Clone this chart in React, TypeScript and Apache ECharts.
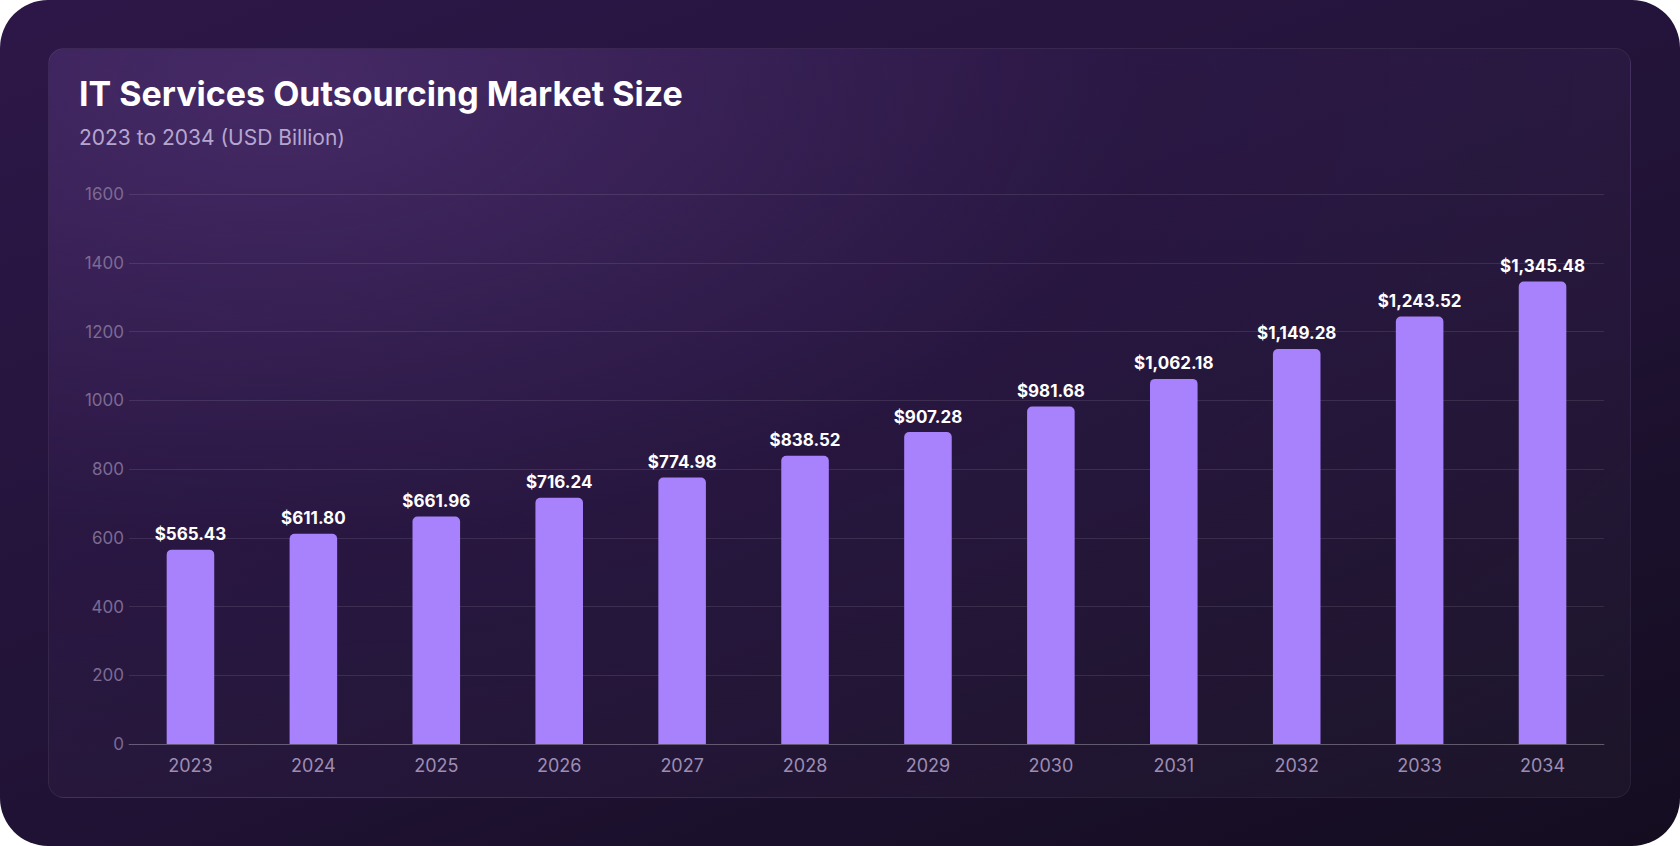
import React, { useEffect, useRef } from 'react';
import * as echarts from 'echarts';

const years = ['2023', '2024', '2025', '2026', '2027', '2028', '2029', '2030', '2031', '2032', '2033', '2034'];
const marketSize = [565.43, 611.8, 661.96, 716.24, 774.98, 838.52, 907.28, 981.68, 1062.18, 1149.28, 1243.52, 1345.48];

const title = 'IT Services Outsourcing Market Size';
const subtitle = '2023 to 2034 (USD Billion)';

const formatUsd = (v: number) =>
  '$' + v.toLocaleString('en-US', { minimumFractionDigits: 2, maximumFractionDigits: 2 });

const App: React.FC = () => {
  const chartRef = useRef<HTMLDivElement>(null);

  useEffect(() => {
    if (!chartRef.current) return;
    const chart = echarts.init(chartRef.current, null, { renderer: 'svg' });

    const option: echarts.EChartsOption = {
      animation: false,
      backgroundColor: 'transparent',
      textStyle: { fontFamily: 'Inter' },
      title: {
        text: title,
        subtext: subtitle,
        left: 74,
        top: 71,
        itemGap: 17,
        textStyle: { color: '#ffffff', fontSize: 34, fontWeight: 'bold', fontFamily: 'Inter' },
        subtextStyle: { color: '#b6a6cf', fontSize: 21, fontFamily: 'Inter' }
      },
      grid: { left: 129, right: 76, top: 194, bottom: 102 },
      xAxis: {
        type: 'category',
        data: years,
        axisLine: { lineStyle: { color: 'rgba(255,255,255,0.22)' } },
        axisTick: { show: false },
        axisLabel: { color: '#9d8db4', fontSize: 18, margin: 12, fontFamily: 'Inter' }
      },
      yAxis: {
        type: 'value',
        min: 0,
        max: 1600,
        interval: 200,
        axisLine: { show: false },
        axisTick: { show: false },
        axisLabel: {
          color: '#7c6a93',
          fontSize: 17,
          margin: 5,
          fontFamily: 'Inter',
          formatter: (v: number) => String(v)
        },
        splitLine: { lineStyle: { color: 'rgba(255,255,255,0.1)' } }
      },
      series: [
        {
          type: 'bar',
          data: marketSize,
          barWidth: '38.7%',
          itemStyle: { color: '#a881fc', borderRadius: [5, 5, 0, 0] },
          label: {
            show: true,
            position: 'top',
            distance: 7,
            color: '#ffffff',
            fontSize: 17,
            fontWeight: 'bold',
            fontFamily: 'Inter',
            formatter: (p: any) => formatUsd(p.value)
          }
        }
      ]
    };

    chart.setOption(option);
    return () => chart.dispose();
  }, []);

  return (
    <div style={{ position: 'fixed', left: 0, top: 0, width: 1680, height: 846, background: '#ffffff' }}>
      <div
        style={{
          position: 'absolute',
          inset: 0,
          borderRadius: 48,
          background: 'linear-gradient(160deg, #2d1748 0%, #221338 50%, #140d20 100%)'
        }}
      />
      <div
        style={{
          position: 'absolute',
          left: 48,
          top: 48,
          width: 1583,
          height: 750,
          borderRadius: 16,
          boxSizing: 'border-box',
          border: '1px solid rgba(255,255,255,0.06)',
          background:
            'radial-gradient(ellipse at 15% 5%, rgba(120,80,165,0.35) 0%, rgba(80,50,120,0.12) 45%, rgba(255,255,255,0.03) 100%)'
        }}
      />
      <div ref={chartRef} style={{ position: 'absolute', left: 0, top: 0, width: 1680, height: 846 }} />
    </div>
  );
};

export default App;
